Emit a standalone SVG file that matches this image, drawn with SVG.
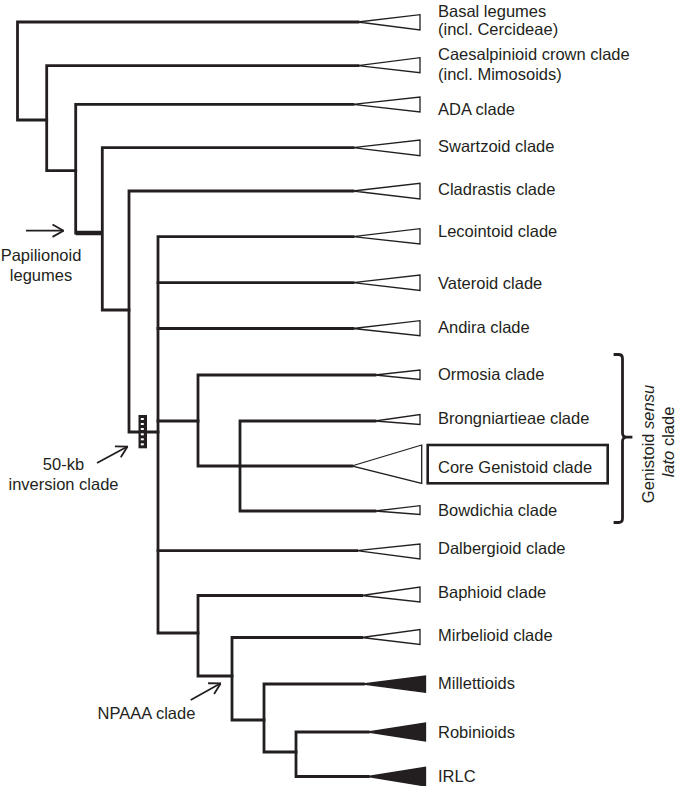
<svg xmlns="http://www.w3.org/2000/svg" width="677" height="786" viewBox="0 0 677 786">
<defs>
<style>
.br{fill:none;stroke:#231f20;stroke-width:2.8;stroke-linecap:square;stroke-linejoin:miter}
.tri{fill:#fff;stroke:#231f20;stroke-width:1.3;stroke-linejoin:miter}
.tri.f{fill:#231f20}
.lbl{font-family:"Liberation Sans",Arial,Helvetica,sans-serif;font-size:16.5px;fill:#231f20}
.arr{fill:none;stroke:#231f20;stroke-width:1.8}
</style>
<marker id="ah" viewBox="0 0 12 14" refX="11.5" refY="7" markerWidth="12" markerHeight="14" markerUnits="userSpaceOnUse" orient="auto">
<path d="M0.5,0.8 L11.5,7 L0.5,13.2" fill="none" stroke="#231f20" stroke-width="1.8"/>
</marker>
</defs>
<rect width="677" height="786" fill="#fff"/>

<g id="connectors">
<path class="br" d="M358,22 H17.5 V120 H46.7"/>
<path class="br" d="M358,65.7 H46.7 V170.7 H75.7"/>
<path class="br" d="M353,104.3 H75.7 V233"/>
<path d="M75.7,233 H102.3" stroke="#231f20" stroke-width="4.5" fill="none"/>
<path class="br" d="M353,147.7 H102.3 V310 H129"/>
<path class="br" d="M353,191 H129 V432 H158"/>
<path class="br" d="M353,236.7 H158 V633 H198"/>
<path class="br" d="M353,282.7 H158"/>
<path class="br" d="M353,328.5 H158"/>
<path class="br" d="M158,421 H198"/>
<path class="br" d="M356.7,550.7 H158"/>
<path class="br" d="M375,375 H198 V466 H351.7"/>
<path class="br" d="M375,421 H240 V511 H375"/>
<path class="br" d="M361.7,595.5 H198 V676 H232"/>
<path class="br" d="M361.7,637.5 H232 V720 H264"/>
<path class="br" d="M363.3,684 H264 V752 H296"/>
<path class="br" d="M368.3,732 H296 V776.5 H368.3"/>
<path class="br" d="M615,354.5 H618.5 Q622.5,354.5 622.5,358.5 V433 Q622.5,437.2 626.5,437.2 H631 M626.5,437.2 Q622.5,437.2 622.5,441.5 V518.5 Q622.5,522.5 618.5,522.5 H615"/>
<line class="arr" x1="26" y1="230.7" x2="63.5" y2="230.7" marker-end="url(#ah)"/>
<line class="arr" x1="97" y1="463" x2="127.5" y2="446.5" marker-end="url(#ah)"/>
<line class="arr" x1="190.7" y1="700" x2="220.7" y2="683.3" marker-end="url(#ah)"/>
</g>

<g id="marker-50kb">
<rect x="138.5" y="415" width="8.5" height="33.3" fill="#231f20"/>
<g fill="#fff">
<rect x="140.8" y="418" width="3" height="2"/>
<rect x="140.8" y="423" width="3" height="2"/>
<rect x="140.8" y="428" width="3" height="2"/>
<rect x="140.8" y="433.3" width="3" height="2"/>
<rect x="140.8" y="438.3" width="3" height="2"/>
<rect x="140.8" y="443.3" width="3" height="2"/>
</g>
</g>

<g id="n-basal"><polygon class="tri" points="358,22 420,14.7 420,30"/><text class="lbl" x="438" y="16.5">Basal legumes</text><text class="lbl" x="438" y="35">(incl. Cercideae)</text></g>
<g id="n-caesalp"><polygon class="tri" points="358,65.7 420,57.7 420,72.7"/><text class="lbl" x="438" y="59.5">Caesalpinioid crown clade</text><text class="lbl" x="438" y="80">(incl. Mimosoids)</text></g>
<g id="n-ada"><polygon class="tri" points="353,104.3 420,97 420,112"/><text class="lbl" x="438" y="114.5">ADA clade</text></g>
<g id="n-swartzoid"><polygon class="tri" points="353,147.7 420,140 420,155.7"/><text class="lbl" x="438" y="151.8">Swartzoid clade</text></g>
<g id="n-cladrastis"><polygon class="tri" points="353,191 420,183.3 420,199"/><text class="lbl" x="438" y="195">Cladrastis clade</text></g>
<g id="n-lecointoid"><polygon class="tri" points="353,236.7 420,228.7 420,244"/><text class="lbl" x="438" y="236.5">Lecointoid clade</text></g>
<g id="n-vateroid"><polygon class="tri" points="353,282.7 420,275 420,290.5"/><text class="lbl" x="438" y="288.5">Vateroid clade</text></g>
<g id="n-andira"><polygon class="tri" points="353,328.5 420,320.7 420,335.7"/><text class="lbl" x="438" y="332.5">Andira clade</text></g>
<g id="n-ormosia"><polygon class="tri" points="375,375 420,370 420,379.5"/><text class="lbl" x="438" y="379.5">Ormosia clade</text></g>
<g id="n-brong"><polygon class="tri" points="375,421 420,414.5 420,424.5"/><text class="lbl" x="438" y="424">Brongniartieae clade</text></g>
<g id="n-core"><polygon class="tri" points="351.7,466 421.7,445 421.7,483.3"/><rect x="427.7" y="445" width="180" height="38.3" fill="none" stroke="#231f20" stroke-width="2.6"/><text class="lbl" x="438" y="472.8">Core Genistoid clade</text></g>
<g id="n-bowdichia"><polygon class="tri" points="375,511 420,505.7 420,514.5"/><text class="lbl" x="438" y="516">Bowdichia clade</text></g>
<g id="n-dalbergioid"><polygon class="tri" points="356.7,550.7 420,544 420,559"/><text class="lbl" x="438" y="553.5">Dalbergioid clade</text></g>
<g id="n-baphioid"><polygon class="tri" points="361.7,595.5 420,587 420,602"/><text class="lbl" x="438" y="597.8">Baphioid clade</text></g>
<g id="n-mirbelioid"><polygon class="tri" points="361.7,637.5 420,629.5 420,644.5"/><text class="lbl" x="438" y="641">Mirbelioid clade</text></g>
<g id="n-millettioids"><polygon class="tri f" points="363.3,684 425.5,676 425.5,692.3"/><text class="lbl" x="438" y="688.5">Millettioids</text></g>
<g id="n-robinioids"><polygon class="tri f" points="368.3,732 425.5,723 425.5,741"/><text class="lbl" x="438" y="737.5">Robinioids</text></g>
<g id="n-irlc"><polygon class="tri f" points="368.3,776.5 425.5,767.3 425.5,786"/><text class="lbl" x="438" y="781.8">IRLC</text></g>

<g id="l-papilionoid"><text class="lbl" x="41" y="261" text-anchor="middle">Papilionoid</text><text class="lbl" x="41" y="281" text-anchor="middle">legumes</text></g>
<g id="l-50kb"><text class="lbl" x="63.5" y="470" text-anchor="middle">50-kb</text><text class="lbl" x="63.5" y="490" text-anchor="middle">inversion clade</text></g>
<g id="l-npaaa"><text class="lbl" x="97.5" y="718.5">NPAAA clade</text></g>
<g id="l-genistoid"><text class="lbl" transform="translate(653.5,444) rotate(-90)" text-anchor="middle">Genistoid <tspan font-style="italic">sensu</tspan></text><text class="lbl" transform="translate(674,442) rotate(-90)" text-anchor="middle"><tspan font-style="italic">lato</tspan> clade</text></g>
</svg>
